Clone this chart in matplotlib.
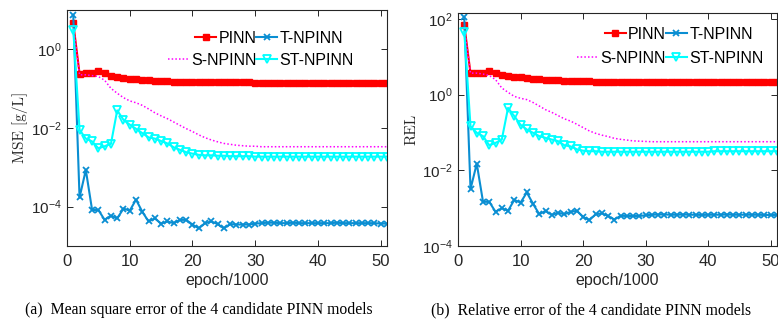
import numpy as np
import matplotlib
matplotlib.use("Agg")
import matplotlib.pyplot as plt
from matplotlib.legend import Legend
from matplotlib.ticker import LogFormatterSciNotation, NullLocator, FixedLocator

plt.rcParams['font.family'] = ['Liberation Sans', 'DejaVu Sans']
plt.rcParams['mathtext.fontset'] = 'custom'
plt.rcParams['mathtext.rm'] = 'Liberation Sans'

epochs = np.arange(1, 52)

# ---- MSE [g/L] ----
mse_pinn = [4.5, 0.237, 0.245, 0.245, 0.271, 0.245, 0.21, 0.194, 0.187, 0.177,
            0.172, 0.166, 0.162, 0.158, 0.153, 0.151, 0.149, 0.147, 0.146, 0.145,
            0.144, 0.144, 0.143, 0.143, 0.142, 0.142, 0.142, 0.141, 0.141, 0.140]
mse_pinn += [0.138] * 10 + [0.136] * 11

mse_t = [7.2, 1.7e-4, 8.5e-4, 8.2e-5, 8.2e-5, 4.6e-5, 5.9e-5, 5.0e-5, 8.9e-5, 7.9e-5,
         1.5e-4, 7.4e-5, 4.2e-5, 5.0e-5, 3.7e-5, 4.2e-5, 3.8e-5, 4.6e-5, 4.6e-5, 3.5e-5,
         2.8e-5, 3.8e-5, 4.2e-5, 3.6e-5, 2.8e-5, 3.6e-5, 3.5e-5, 3.5e-5, 3.5e-5, 3.7e-5]
mse_t += [3.8e-5, 3.9e-5, 3.9e-5, 3.8e-5, 3.8e-5, 3.9e-5, 3.8e-5, 3.8e-5, 3.8e-5, 3.8e-5,
          3.8e-5, 3.8e-5, 3.9e-5, 3.8e-5, 3.8e-5, 3.8e-5, 3.8e-5, 3.8e-5, 3.8e-5, 3.7e-5, 3.7e-5]

mse_s = [4.0, 0.22, 0.22, 0.21, 0.2, 0.16, 0.1, 0.075, 0.058, 0.048,
         0.043, 0.037, 0.03, 0.024, 0.02, 0.017, 0.014, 0.0115, 0.0095, 0.008,
         0.0066, 0.0056, 0.0049, 0.0044, 0.004, 0.0038, 0.0036, 0.0035, 0.0034, 0.0034]
mse_s += [0.0033] * 21

mse_st = [3.1, 8.9e-3, 5.3e-3, 4.5e-3, 3.0e-3, 3.4e-3, 3.9e-3, 0.0276, 0.0159, 0.012,
          9.4e-3, 7.3e-3, 5.7e-3, 5.3e-3, 4.6e-3, 4.0e-3, 3.2e-3, 2.75e-3, 2.4e-3, 2.2e-3,
          2.05e-3, 2.0e-3, 2.0e-3, 1.95e-3, 1.95e-3, 1.9e-3, 1.9e-3, 1.9e-3, 1.9e-3, 1.85e-3]
mse_st += [1.85e-3] * 21

# ---- REL ----
rel_pinn = [70, 3.7, 3.8, 3.8, 4.3, 3.7, 3.36, 3.16, 3.0, 2.85,
            2.75, 2.65, 2.58, 2.5, 2.42, 2.38, 2.34, 2.3, 2.27, 2.24,
            2.23, 2.22, 2.22, 2.21, 2.21, 2.2, 2.2, 2.2, 2.2, 2.2]
rel_pinn += [2.18] * 10 + [2.16] * 11

rel_t = [110, 3.2e-3, 0.015, 1.47e-3, 1.47e-3, 8.0e-4, 1.0e-3, 8.5e-4, 1.66e-3, 1.4e-3,
         2.6e-3, 1.3e-3, 6.9e-4, 8.5e-4, 6.6e-4, 7.6e-4, 6.9e-4, 8.0e-4, 8.5e-4, 5.9e-4,
         4.8e-4, 6.9e-4, 7.3e-4, 6.2e-4, 5.0e-4, 6.3e-4, 6.2e-4, 6.2e-4, 6.2e-4, 6.5e-4]
rel_t += [6.7e-4, 6.8e-4, 6.8e-4, 6.7e-4, 6.7e-4, 6.8e-4, 6.7e-4, 6.7e-4, 6.6e-4, 6.7e-4,
          6.7e-4, 6.7e-4, 6.8e-4, 6.7e-4, 6.7e-4, 6.7e-4, 6.7e-4, 6.7e-4, 6.6e-4, 6.6e-4, 6.6e-4]

rel_s = [60, 3.7, 3.7, 3.5, 3.2, 2.5, 1.5, 1.15, 0.9, 0.8,
         0.74, 0.62, 0.5, 0.4, 0.34, 0.28, 0.23, 0.2, 0.165, 0.135,
         0.11, 0.095, 0.085, 0.078, 0.07, 0.066, 0.063, 0.06, 0.059, 0.058]
rel_s += [0.057] * 21

rel_st = [46, 0.146, 0.098, 0.08, 0.046, 0.053, 0.065, 0.446, 0.27, 0.16,
          0.12, 0.098, 0.08, 0.072, 0.065, 0.059, 0.046, 0.043, 0.036, 0.033,
          0.032, 0.032, 0.031, 0.031, 0.031, 0.031, 0.031, 0.031, 0.031, 0.031]
rel_st += [0.031] * 10 + [0.032] * 11

labels = ['PINN', 'T-NPINN', 'S-NPINN', 'ST-NPINN']
c_red = '#ff0000'
c_blue = '#0a8ed2'
c_mag = '#ff00ff'
c_cyan = '#00ffff'
ink = '#262626'

W, H = 778, 320
fig = plt.figure(figsize=(W / 100, H / 100), dpi=100)


def box(l, t, r, b):
    return [l / W, 1 - b / H, (r - l) / W, (b - t) / H]


def legend_entry(ax, handle, text, loc, anchor):
    leg = Legend(ax, [handle], [text], loc=loc, bbox_to_anchor=anchor, frameon=False,
                 fontsize=11.5, handlelength=1.3, handletextpad=0.15,
                 borderpad=0, borderaxespad=0, numpoints=1)
    ax.add_artist(leg)


def draw(ax, pinn, t, s, st, ylim, yticks, ylabel, split, row1, row2):
    h1, = ax.plot(epochs, pinn, color=c_red, lw=1.5, marker='s', ms=3.9)
    h2, = ax.plot(epochs, t, color=c_blue, lw=1.5, marker='x', ms=4.5, mew=1.3)
    h3, = ax.plot(epochs, s, color=c_mag, lw=1.1, ls=(0, (1, 1.4)))
    h4, = ax.plot(epochs, st, color=c_cyan, lw=1.5, marker='v', ms=5.5, mfc='none', mew=1.3)
    ax.set_yscale('log')
    ax.set_xlim(0, 51)
    ax.set_ylim(*ylim)
    ax.set_xticks([0, 10, 20, 30, 40, 50])
    ax.yaxis.set_major_locator(FixedLocator(yticks))
    ax.yaxis.set_minor_locator(NullLocator())
    ax.yaxis.set_major_formatter(LogFormatterSciNotation())
    ax.tick_params(axis='both', direction='in', top=True, right=True,
                   length=4, width=0.7, colors=ink, labelcolor=ink)
    ax.tick_params(axis='x', pad=6, labelsize=12)
    ax.tick_params(axis='y', pad=4, labelsize=11)
    for sp in ax.spines.values():
        sp.set_linewidth(0.8)
        sp.set_color(ink)
    ax.set_xlabel('epoch/1000', fontsize=11.5, color=ink, labelpad=3)
    ax.set_ylabel(ylabel, fontsize=11, family='cmr10', color=ink, labelpad=2)
    # two legend rows: first column right-aligned, second column left-aligned
    legend_entry(ax, h1, labels[0], 'center right', (split, row1))
    legend_entry(ax, h2, labels[1], 'center left', (split, row1))
    legend_entry(ax, h3, labels[2], 'center right', (split, row2))
    legend_entry(ax, h4, labels[3], 'center left', (split, row2))


ax1 = fig.add_axes(box(67, 9.5, 387, 246))
draw(ax1, mse_pinn, mse_t, mse_s, mse_st, (1e-5, 1e1), [1e-4, 1e-2, 1e0], 'MSE [g/L]',
     0.592, 0.878, 0.786)

ax2 = fig.add_axes(box(458, 13.3, 777, 246))
draw(ax2, rel_pinn, rel_t, rel_s, rel_st, (1e-4, 10 ** 2.15), [1e-4, 1e-2, 1e0, 1e2], 'REL',
     0.652, 0.91, 0.807)

fig.text(199 / W, 1 - 310 / H, '(a)  Mean square error of the 4 candidate PINN models',
         ha='center', va='center', fontsize=11.3, family='Liberation Serif')
fig.text(591 / W, 1 - 310 / H, '(b)  Relative error of the 4 candidate PINN models',
         ha='center', va='center', fontsize=11.3, family='Liberation Serif')

fig.savefig('out.png', dpi=100)
